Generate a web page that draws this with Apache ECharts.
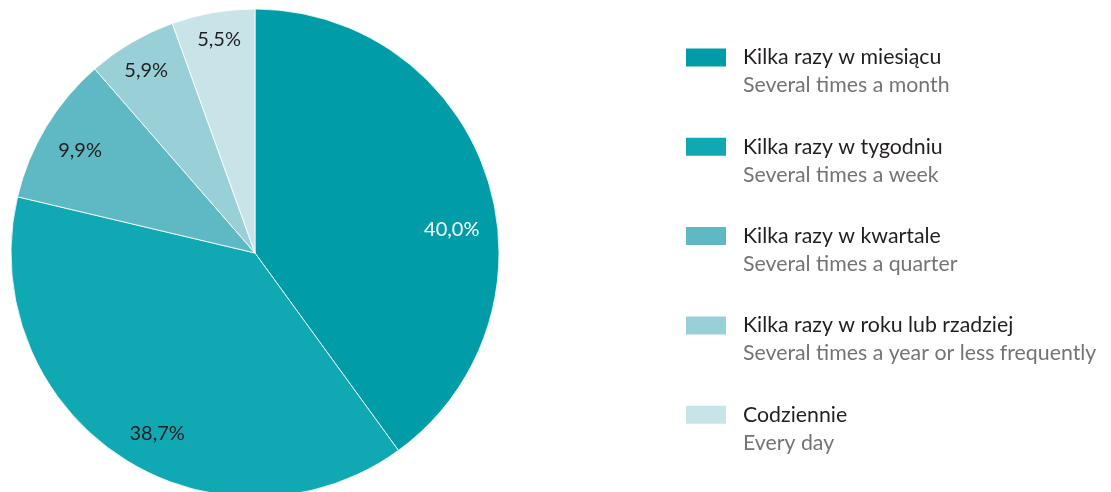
<!DOCTYPE html>
<html><head><meta charset="utf-8">
<script src="https://cdn.jsdelivr.net/npm/echarts@6/dist/echarts.min.js"></script>
<style>html,body{margin:0;padding:0;background:#fff}#c{width:1111px;height:492px}</style>
</head><body><div id="c"></div>
<script>
const categories = ['Kilka razy w miesiącu','Kilka razy w tygodniu','Kilka razy w kwartale','Kilka razy w roku lub rzadziej','Codziennie'];
const subtitles = ['Several times a month','Several times a week','Several times a quarter','Several times a year or less frequently','Every day'];
const values = [40.0, 38.7, 9.9, 5.9, 5.5];
const colors = ['#009da8','#10a8b3','#5fb9c4','#99d0d8','#c9e4e8'];
const labelColors = ['#ffffff','#231f20','#231f20','#231f20','#231f20'];
const labelNudge = [[-2,41],[18,7],[4,6],[-3,-2],[0,-8]];

const font = 'Lato';
const chart = echarts.init(document.getElementById('c'), null, {renderer:'canvas'});
const pieData = categories.map((n,i)=>({name:n, value:values[i], itemStyle:{color:colors[i]}}));
const labelData = categories.map((n,i)=>({name:n, value:values[i], label:{color:labelColors[i]}}));
chart.setOption({
  animation:false,
  legend:{
    orient:'vertical', left:679, top:14, itemWidth:42, itemHeight:20, itemGap:12.3,
    icon:'rect', selectedMode:false,
    data:categories,
    formatter:function(name){ const i=categories.indexOf(name); return '{e| }\n{a|'+name+'}\n{b|'+subtitles[i]+'}'; },
    textStyle:{ fontFamily:font, rich:{
      e:{lineHeight:28, fontSize:21.3, padding:[0,0,0,11]},
      a:{lineHeight:28, fontSize:21.3, color:'#231f20', fontFamily:font, padding:[0,0,0,11]},
      b:{lineHeight:28, fontSize:21.3, color:'#747474', fontFamily:font, padding:[0,0,0,11]}
    }}
  },
  series:[
    { type:'pie', center:[255,253], radius:[0,244], startAngle:90, clockwise:true,
      label:{show:false}, labelLine:{show:false}, silent:true,
      itemStyle:{borderColor:'#ffffff', borderWidth:0.8},
      data:pieData },
    { type:'pie', center:[255,253], radius:[168,244], startAngle:90, clockwise:true,
      silent:true, legendHoverLink:false,
      itemStyle:{color:'rgba(0,0,0,0)'},
      label:{show:true, position:'inside', fontFamily:font, fontSize:20,
        formatter:p=>p.value.toFixed(1).replace('.',',')+'%'},
      labelLine:{show:false},
      labelLayout:p=>({dx:labelNudge[p.dataIndex][0], dy:labelNudge[p.dataIndex][1]}),
      data:labelData }
  ]
});
</script></body></html>
